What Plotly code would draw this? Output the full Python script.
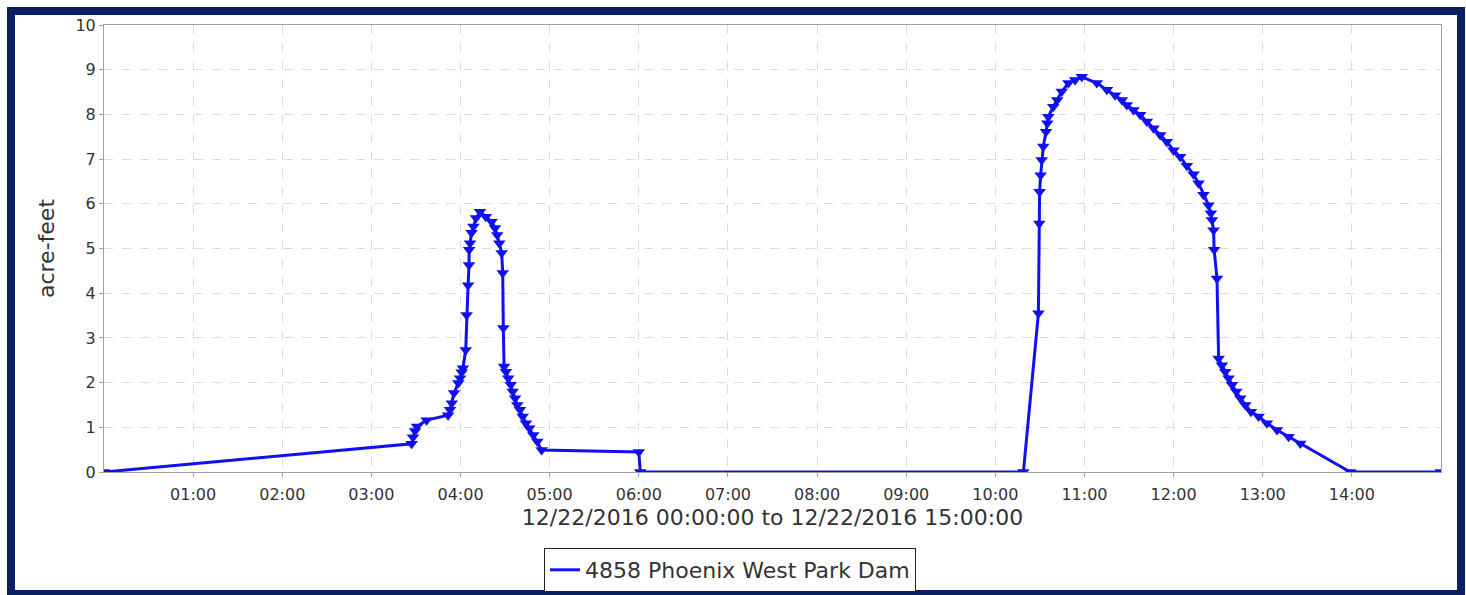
import pandas as pd
import plotly.graph_objects as go

# minutes after midnight on 12/22/2016, storage in acre-feet
minutes = [
    0, 207.1, 208.0, 209.4, 210.7, 217.2, 231.6, 232.9, 234.1, 235.6,
    238.5, 239.7, 240.8, 241.6, 243.5, 244.1, 245.1, 245.7, 245.8, 246.4,
    247.4, 248.7, 250.4, 253.1, 257.0, 260.9, 263.2, 264.7, 266.1, 267.7,
    268.4, 268.8, 269.3, 270.6, 272.1, 273.8, 275.1, 276.7, 278.2, 280.0,
    281.8, 284.0, 286.3, 289.0, 291.7, 294.6, 360.0, 361.0,
    618.9, 629.0, 629.6, 629.8, 630.5, 631.2, 632.3, 634.1, 635.0, 635.7,
    639.0, 641.7, 644.7, 649.2, 653.7, 658.2, 668.3, 675.1, 680.6, 685.2,
    688.5, 693.0, 697.5, 702.0, 706.5, 711.0, 715.4, 719.9, 724.4, 728.9,
    733.4, 736.8, 740.1, 743.5, 745.1, 745.8, 746.9, 747.3, 749.2, 750.3,
    752.5, 754.8, 757.0, 759.3, 762.2, 764.9, 768.3, 772.1, 777.2, 782.8,
    789.6, 797.4, 805.3, 838.9, 900.0,
]
acre_feet = [
    0.0, 0.63, 0.78, 0.92, 1.02, 1.16, 1.27, 1.39, 1.54, 1.77,
    1.99, 2.10, 2.23, 2.32, 2.73, 3.51, 4.18, 4.63, 4.97, 5.12,
    5.35, 5.49, 5.68, 5.82, 5.71, 5.60, 5.46, 5.30, 5.12, 4.90,
    4.45, 3.22, 2.36, 2.24, 2.10, 1.95, 1.80, 1.65, 1.50, 1.39,
    1.24, 1.09, 0.98, 0.83, 0.68, 0.49, 0.45, 0.0,
    0.0, 3.55, 5.56, 6.27, 6.64, 6.98, 7.28, 7.61, 7.80, 7.95,
    8.17, 8.32, 8.51, 8.70, 8.77, 8.84, 8.70, 8.55, 8.43, 8.32,
    8.21, 8.10, 7.99, 7.84, 7.69, 7.54, 7.39, 7.20, 7.05, 6.85,
    6.66, 6.46, 6.20, 5.97, 5.79, 5.64, 5.41, 4.97, 4.33, 2.54,
    2.39, 2.24, 2.10, 1.95, 1.80, 1.65, 1.50, 1.35, 1.24, 1.09,
    0.94, 0.79, 0.64, 0.0, 0.0,
]
tick_labels = ['01:00', '02:00', '03:00', '04:00', '05:00', '06:00', '07:00',
               '08:00', '09:00', '10:00', '11:00', '12:00', '13:00', '14:00']
y_ticks = [0, 1, 2, 3, 4, 5, 6, 7, 8, 9, 10]
series_name = '4858 Phoenix West Park Dam'
x_title = '12/22/2016 00:00:00 to 12/22/2016 15:00:00'

base = pd.Timestamp('2016-12-22 00:00:00')
times = [base + pd.Timedelta(minutes=m) for m in minutes]
tick_vals = [base + pd.Timedelta(hours=int(t[:2])) for t in tick_labels]

blue = '#1010f5'
grid = '#dcdcdc'
axis_col = '#a0a0a0'
text_col = '#333333'
font = 'DejaVu Sans'

fig = go.Figure()
fig.add_trace(go.Scatter(
    x=times, y=acre_feet, mode='lines+markers', showlegend=False,
    line=dict(color=blue, width=3),
    marker=dict(symbol='triangle-down', size=11, color=blue),
))
# legend entry shows only the line
fig.add_trace(go.Scatter(
    x=[None], y=[None], mode='lines', name=series_name,
    line=dict(color=blue, width=3),
))

W, H = 1466, 595
L, R, T, B = 104, 25, 25, 123
pw, ph = W - L - R, H - T - B

def px_x(x):
    return (x - L) / pw

def px_y(y):
    return (H - B - y) / ph

# navy frame around the whole picture
fig.add_shape(type='rect', xref='paper', yref='paper',
              x0=px_x(11), x1=px_x(1461), y0=px_y(594), y1=px_y(11),
              line=dict(color='#0b2063', width=8), fillcolor='rgba(0,0,0,0)',
              layer='below')

fig.update_xaxes(
    range=[base, base + pd.Timedelta(hours=15)],
    tickvals=tick_vals, ticktext=tick_labels,
    showgrid=True, gridcolor=grid, griddash='dash', gridwidth=1,
    showline=True, linecolor=axis_col, linewidth=1, mirror=True,
    ticks='outside', ticklen=4, tickcolor=axis_col, ticklabelstandoff=4,
    tickfont=dict(family=font, size=16, color=text_col),
    title=dict(text=x_title, font=dict(family=font, size=22, color=text_col),
               standoff=6),
    zeroline=False,
)
fig.update_yaxes(
    range=[0, 10], tickvals=y_ticks,
    showgrid=True, gridcolor=grid, griddash='dash', gridwidth=1,
    showline=True, linecolor=axis_col, linewidth=1, mirror=True,
    ticks='outside', ticklen=4, tickcolor=axis_col,
    tickfont=dict(family=font, size=16, color=text_col),
    title=dict(text='acre-feet', font=dict(family=font, size=22, color=text_col),
               standoff=14),
    zeroline=False,
)
fig.update_layout(
    width=W, height=H,
    margin=dict(l=L, r=R, t=T, b=B, autoexpand=False),
    paper_bgcolor='white', plot_bgcolor='white',
    font=dict(family=font),
    legend=dict(
        orientation='h', x=px_x(730), y=px_y(548), xanchor='center', yanchor='top',
        bordercolor='#222222', borderwidth=1, bgcolor='white',
        font=dict(family=font, size=22, color=text_col),
        itemwidth=30,
    ),
)

fig.write_html('out.html', config={'displayModeBar': False},
               post_script="document.body.style.margin='0';")
